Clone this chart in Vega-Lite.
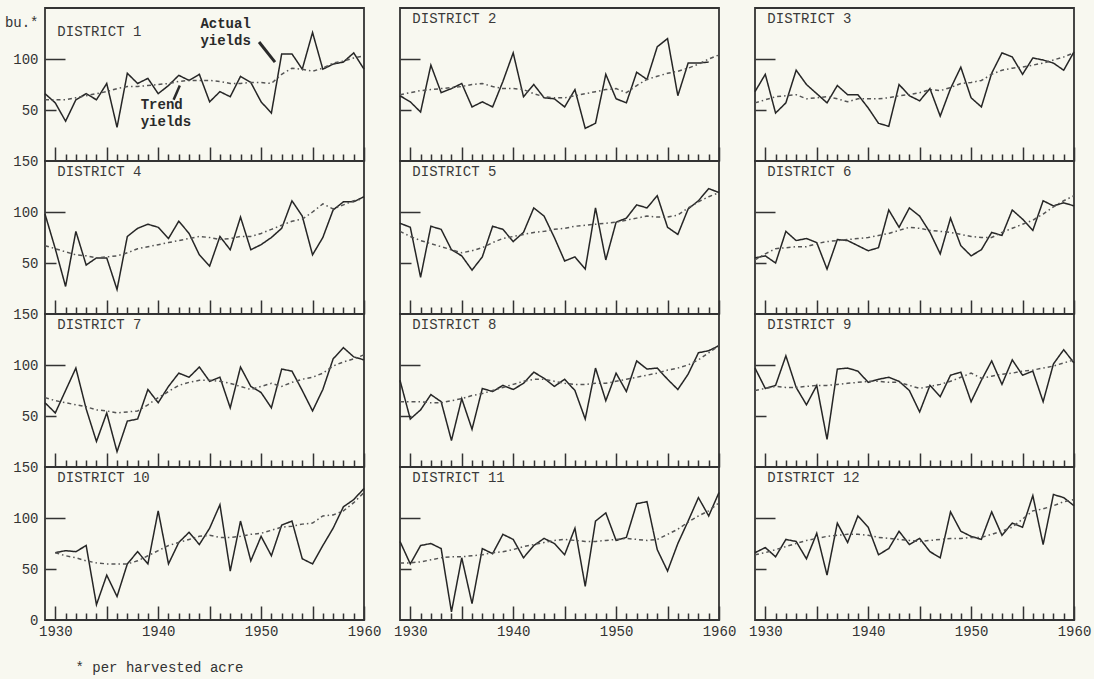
{
"$schema": "https://vega.github.io/schema/vega-lite/v6.json",
"background": "#f8f8f0",
"padding": {"left": 3, "top": 7, "right": 10, "bottom": 4},
"title": {"text": "* per harvested acre", "orient": "bottom", "anchor": "start", "dx": 72, "offset": 22, "fontSize": 14, "fontWeight": "normal", "color": "#333333", "font": "Liberation Mono"},
"config": {
  "font": "Liberation Mono",
  "view": {"stroke": "#333333", "strokeWidth": 1.8},
  "axis": {"grid": false, "domain": false, "tickSize": 0, "tickColor": "#333333", "tickWidth": 1.5, "labelFont": "Liberation Mono", "labelFontSize": 14, "labelColor": "#333333", "labelFlush": false, "labelOverlap": false},
  "text": {"font": "Liberation Mono"},
  "line": {"strokeWidth": 1.5}
},
"datasets": {"yields": [
{"d":1,"yr":1929,"a":66,"t":60},{"d":1,"yr":1930,"a":57,"t":60},{"d":1,"yr":1931,"a":39,"t":60},{"d":1,"yr":1932,"a":60,"t":62},{"d":1,"yr":1933,"a":66,"t":64},{"d":1,"yr":1934,"a":60,"t":66},{"d":1,"yr":1935,"a":76,"t":68},{"d":1,"yr":1936,"a":33,"t":71},{"d":1,"yr":1937,"a":86,"t":73},{"d":1,"yr":1938,"a":76,"t":73},{"d":1,"yr":1939,"a":81,"t":74},{"d":1,"yr":1940,"a":66,"t":75},{"d":1,"yr":1941,"a":74,"t":76},{"d":1,"yr":1942,"a":84,"t":78},{"d":1,"yr":1943,"a":79,"t":79},{"d":1,"yr":1944,"a":85,"t":79},{"d":1,"yr":1945,"a":58,"t":79},{"d":1,"yr":1946,"a":68,"t":78},{"d":1,"yr":1947,"a":63,"t":76},{"d":1,"yr":1948,"a":83,"t":76},{"d":1,"yr":1949,"a":77,"t":77},{"d":1,"yr":1950,"a":58,"t":77},{"d":1,"yr":1951,"a":47,"t":76},{"d":1,"yr":1952,"a":105,"t":85},{"d":1,"yr":1953,"a":105,"t":91},{"d":1,"yr":1954,"a":90,"t":90},{"d":1,"yr":1955,"a":126,"t":88},{"d":1,"yr":1956,"a":90,"t":91},{"d":1,"yr":1957,"a":95,"t":96},{"d":1,"yr":1958,"a":97,"t":98},{"d":1,"yr":1959,"a":106,"t":101},{"d":1,"yr":1960,"a":90,"t":103},
{"d":2,"yr":1929,"a":64,"t":65},{"d":2,"yr":1930,"a":58,"t":67},{"d":2,"yr":1931,"a":48,"t":69},{"d":2,"yr":1932,"a":94,"t":70},{"d":2,"yr":1933,"a":67,"t":71},{"d":2,"yr":1934,"a":71,"t":72},{"d":2,"yr":1935,"a":76,"t":73},{"d":2,"yr":1936,"a":53,"t":75},{"d":2,"yr":1937,"a":58,"t":76},{"d":2,"yr":1938,"a":53,"t":73},{"d":2,"yr":1939,"a":78,"t":71},{"d":2,"yr":1940,"a":106,"t":71},{"d":2,"yr":1941,"a":63,"t":70},{"d":2,"yr":1942,"a":75,"t":66},{"d":2,"yr":1943,"a":62,"t":63},{"d":2,"yr":1944,"a":61,"t":62},{"d":2,"yr":1945,"a":53,"t":62},{"d":2,"yr":1946,"a":70,"t":64},{"d":2,"yr":1947,"a":32,"t":66},{"d":2,"yr":1948,"a":37,"t":68},{"d":2,"yr":1949,"a":85,"t":70},{"d":2,"yr":1950,"a":61,"t":71},{"d":2,"yr":1951,"a":57,"t":67},{"d":2,"yr":1952,"a":87,"t":74},{"d":2,"yr":1953,"a":80,"t":80},{"d":2,"yr":1954,"a":112,"t":83},{"d":2,"yr":1955,"a":120,"t":86},{"d":2,"yr":1956,"a":64,"t":88},{"d":2,"yr":1957,"a":96,"t":91},{"d":2,"yr":1958,"a":96,"t":95},{"d":2,"yr":1959,"a":97,"t":100},{"d":2,"yr":1960,"a":null,"t":104},
{"d":3,"yr":1929,"a":68,"t":57},{"d":3,"yr":1930,"a":85,"t":60},{"d":3,"yr":1931,"a":47,"t":63},{"d":3,"yr":1932,"a":57,"t":64},{"d":3,"yr":1933,"a":89,"t":65},{"d":3,"yr":1934,"a":75,"t":61},{"d":3,"yr":1935,"a":66,"t":62},{"d":3,"yr":1936,"a":57,"t":63},{"d":3,"yr":1937,"a":74,"t":61},{"d":3,"yr":1938,"a":65,"t":58},{"d":3,"yr":1939,"a":65,"t":61},{"d":3,"yr":1940,"a":52,"t":61},{"d":3,"yr":1941,"a":37,"t":61},{"d":3,"yr":1942,"a":34,"t":62},{"d":3,"yr":1943,"a":75,"t":64},{"d":3,"yr":1944,"a":64,"t":65},{"d":3,"yr":1945,"a":59,"t":67},{"d":3,"yr":1946,"a":71,"t":70},{"d":3,"yr":1947,"a":44,"t":69},{"d":3,"yr":1948,"a":71,"t":72},{"d":3,"yr":1949,"a":92,"t":76},{"d":3,"yr":1950,"a":62,"t":77},{"d":3,"yr":1951,"a":53,"t":79},{"d":3,"yr":1952,"a":86,"t":85},{"d":3,"yr":1953,"a":106,"t":89},{"d":3,"yr":1954,"a":102,"t":91},{"d":3,"yr":1955,"a":85,"t":92},{"d":3,"yr":1956,"a":101,"t":94},{"d":3,"yr":1957,"a":99,"t":96},{"d":3,"yr":1958,"a":96,"t":99},{"d":3,"yr":1959,"a":89,"t":102},{"d":3,"yr":1960,"a":107,"t":106},
{"d":4,"yr":1929,"a":98,"t":67},{"d":4,"yr":1930,"a":64,"t":64},{"d":4,"yr":1931,"a":27,"t":61},{"d":4,"yr":1932,"a":81,"t":58},{"d":4,"yr":1933,"a":48,"t":57},{"d":4,"yr":1934,"a":55,"t":55},{"d":4,"yr":1935,"a":55,"t":56},{"d":4,"yr":1936,"a":24,"t":57},{"d":4,"yr":1937,"a":76,"t":60},{"d":4,"yr":1938,"a":84,"t":64},{"d":4,"yr":1939,"a":88,"t":66},{"d":4,"yr":1940,"a":85,"t":68},{"d":4,"yr":1941,"a":74,"t":70},{"d":4,"yr":1942,"a":91,"t":72},{"d":4,"yr":1943,"a":79,"t":74},{"d":4,"yr":1944,"a":58,"t":76},{"d":4,"yr":1945,"a":47,"t":75},{"d":4,"yr":1946,"a":76,"t":73},{"d":4,"yr":1947,"a":63,"t":74},{"d":4,"yr":1948,"a":95,"t":76},{"d":4,"yr":1949,"a":63,"t":76},{"d":4,"yr":1950,"a":68,"t":79},{"d":4,"yr":1951,"a":75,"t":83},{"d":4,"yr":1952,"a":84,"t":87},{"d":4,"yr":1953,"a":111,"t":91},{"d":4,"yr":1954,"a":96,"t":93},{"d":4,"yr":1955,"a":58,"t":100},{"d":4,"yr":1956,"a":75,"t":108},{"d":4,"yr":1957,"a":102,"t":103},{"d":4,"yr":1958,"a":110,"t":107},{"d":4,"yr":1959,"a":110,"t":111},{"d":4,"yr":1960,"a":115,"t":113},
{"d":5,"yr":1929,"a":89,"t":81},{"d":5,"yr":1930,"a":85,"t":76},{"d":5,"yr":1931,"a":36,"t":72},{"d":5,"yr":1932,"a":86,"t":69},{"d":5,"yr":1933,"a":83,"t":66},{"d":5,"yr":1934,"a":63,"t":63},{"d":5,"yr":1935,"a":57,"t":60},{"d":5,"yr":1936,"a":43,"t":62},{"d":5,"yr":1937,"a":56,"t":65},{"d":5,"yr":1938,"a":86,"t":70},{"d":5,"yr":1939,"a":83,"t":74},{"d":5,"yr":1940,"a":71,"t":76},{"d":5,"yr":1941,"a":80,"t":78},{"d":5,"yr":1942,"a":104,"t":80},{"d":5,"yr":1943,"a":96,"t":81},{"d":5,"yr":1944,"a":75,"t":83},{"d":5,"yr":1945,"a":52,"t":84},{"d":5,"yr":1946,"a":56,"t":86},{"d":5,"yr":1947,"a":44,"t":87},{"d":5,"yr":1948,"a":104,"t":88},{"d":5,"yr":1949,"a":53,"t":89},{"d":5,"yr":1950,"a":90,"t":90},{"d":5,"yr":1951,"a":94,"t":92},{"d":5,"yr":1952,"a":107,"t":94},{"d":5,"yr":1953,"a":104,"t":96},{"d":5,"yr":1954,"a":116,"t":95},{"d":5,"yr":1955,"a":85,"t":95},{"d":5,"yr":1956,"a":78,"t":97},{"d":5,"yr":1957,"a":103,"t":104},{"d":5,"yr":1958,"a":111,"t":110},{"d":5,"yr":1959,"a":123,"t":115},{"d":5,"yr":1960,"a":119,"t":119},
{"d":6,"yr":1929,"a":55,"t":53},{"d":6,"yr":1930,"a":57,"t":59},{"d":6,"yr":1931,"a":50,"t":64},{"d":6,"yr":1932,"a":81,"t":65},{"d":6,"yr":1933,"a":72,"t":66},{"d":6,"yr":1934,"a":74,"t":66},{"d":6,"yr":1935,"a":70,"t":69},{"d":6,"yr":1936,"a":44,"t":71},{"d":6,"yr":1937,"a":73,"t":72},{"d":6,"yr":1938,"a":72,"t":73},{"d":6,"yr":1939,"a":67,"t":74},{"d":6,"yr":1940,"a":62,"t":75},{"d":6,"yr":1941,"a":65,"t":77},{"d":6,"yr":1942,"a":102,"t":79},{"d":6,"yr":1943,"a":85,"t":82},{"d":6,"yr":1944,"a":104,"t":85},{"d":6,"yr":1945,"a":96,"t":84},{"d":6,"yr":1946,"a":80,"t":82},{"d":6,"yr":1947,"a":59,"t":81},{"d":6,"yr":1948,"a":94,"t":80},{"d":6,"yr":1949,"a":67,"t":78},{"d":6,"yr":1950,"a":57,"t":76},{"d":6,"yr":1951,"a":63,"t":75},{"d":6,"yr":1952,"a":80,"t":75},{"d":6,"yr":1953,"a":77,"t":80},{"d":6,"yr":1954,"a":102,"t":84},{"d":6,"yr":1955,"a":93,"t":88},{"d":6,"yr":1956,"a":82,"t":92},{"d":6,"yr":1957,"a":111,"t":98},{"d":6,"yr":1958,"a":106,"t":105},{"d":6,"yr":1959,"a":109,"t":111},{"d":6,"yr":1960,"a":106,"t":116},
{"d":7,"yr":1929,"a":63,"t":68},{"d":7,"yr":1930,"a":53,"t":65},{"d":7,"yr":1931,"a":75,"t":63},{"d":7,"yr":1932,"a":97,"t":61},{"d":7,"yr":1933,"a":57,"t":59},{"d":7,"yr":1934,"a":25,"t":56},{"d":7,"yr":1935,"a":53,"t":55},{"d":7,"yr":1936,"a":15,"t":53},{"d":7,"yr":1937,"a":45,"t":54},{"d":7,"yr":1938,"a":47,"t":55},{"d":7,"yr":1939,"a":76,"t":61},{"d":7,"yr":1940,"a":63,"t":68},{"d":7,"yr":1941,"a":79,"t":74},{"d":7,"yr":1942,"a":92,"t":80},{"d":7,"yr":1943,"a":88,"t":83},{"d":7,"yr":1944,"a":98,"t":85},{"d":7,"yr":1945,"a":84,"t":85},{"d":7,"yr":1946,"a":88,"t":84},{"d":7,"yr":1947,"a":58,"t":82},{"d":7,"yr":1948,"a":98,"t":79},{"d":7,"yr":1949,"a":79,"t":76},{"d":7,"yr":1950,"a":73,"t":79},{"d":7,"yr":1951,"a":58,"t":82},{"d":7,"yr":1952,"a":96,"t":79},{"d":7,"yr":1953,"a":94,"t":83},{"d":7,"yr":1954,"a":75,"t":86},{"d":7,"yr":1955,"a":55,"t":88},{"d":7,"yr":1956,"a":76,"t":92},{"d":7,"yr":1957,"a":106,"t":99},{"d":7,"yr":1958,"a":117,"t":103},{"d":7,"yr":1959,"a":108,"t":106},{"d":7,"yr":1960,"a":105,"t":110},
{"d":8,"yr":1929,"a":85,"t":64},{"d":8,"yr":1930,"a":47,"t":64},{"d":8,"yr":1931,"a":56,"t":64},{"d":8,"yr":1932,"a":71,"t":63},{"d":8,"yr":1933,"a":64,"t":63},{"d":8,"yr":1934,"a":26,"t":65},{"d":8,"yr":1935,"a":67,"t":67},{"d":8,"yr":1936,"a":37,"t":70},{"d":8,"yr":1937,"a":77,"t":72},{"d":8,"yr":1938,"a":74,"t":75},{"d":8,"yr":1939,"a":80,"t":78},{"d":8,"yr":1940,"a":76,"t":81},{"d":8,"yr":1941,"a":82,"t":84},{"d":8,"yr":1942,"a":93,"t":86},{"d":8,"yr":1943,"a":87,"t":86},{"d":8,"yr":1944,"a":79,"t":84},{"d":8,"yr":1945,"a":86,"t":82},{"d":8,"yr":1946,"a":75,"t":81},{"d":8,"yr":1947,"a":47,"t":81},{"d":8,"yr":1948,"a":97,"t":82},{"d":8,"yr":1949,"a":65,"t":82},{"d":8,"yr":1950,"a":92,"t":84},{"d":8,"yr":1951,"a":74,"t":86},{"d":8,"yr":1952,"a":104,"t":88},{"d":8,"yr":1953,"a":96,"t":90},{"d":8,"yr":1954,"a":97,"t":92},{"d":8,"yr":1955,"a":86,"t":95},{"d":8,"yr":1956,"a":76,"t":97},{"d":8,"yr":1957,"a":91,"t":100},{"d":8,"yr":1958,"a":112,"t":105},{"d":8,"yr":1959,"a":114,"t":112},{"d":8,"yr":1960,"a":119,"t":119},
{"d":9,"yr":1929,"a":97,"t":75},{"d":9,"yr":1930,"a":77,"t":77},{"d":9,"yr":1931,"a":80,"t":79},{"d":9,"yr":1932,"a":109,"t":78},{"d":9,"yr":1933,"a":78,"t":78},{"d":9,"yr":1934,"a":61,"t":79},{"d":9,"yr":1935,"a":80,"t":80},{"d":9,"yr":1936,"a":27,"t":80},{"d":9,"yr":1937,"a":96,"t":81},{"d":9,"yr":1938,"a":97,"t":82},{"d":9,"yr":1939,"a":94,"t":83},{"d":9,"yr":1940,"a":83,"t":84},{"d":9,"yr":1941,"a":86,"t":84},{"d":9,"yr":1942,"a":88,"t":83},{"d":9,"yr":1943,"a":84,"t":83},{"d":9,"yr":1944,"a":75,"t":80},{"d":9,"yr":1945,"a":54,"t":77},{"d":9,"yr":1946,"a":80,"t":79},{"d":9,"yr":1947,"a":69,"t":81},{"d":9,"yr":1948,"a":90,"t":84},{"d":9,"yr":1949,"a":93,"t":88},{"d":9,"yr":1950,"a":64,"t":92},{"d":9,"yr":1951,"a":85,"t":87},{"d":9,"yr":1952,"a":104,"t":89},{"d":9,"yr":1953,"a":81,"t":91},{"d":9,"yr":1954,"a":105,"t":92},{"d":9,"yr":1955,"a":90,"t":94},{"d":9,"yr":1956,"a":94,"t":95},{"d":9,"yr":1957,"a":64,"t":97},{"d":9,"yr":1958,"a":101,"t":99},{"d":9,"yr":1959,"a":115,"t":102},{"d":9,"yr":1960,"a":102,"t":105},
{"d":10,"yr":1930,"a":66,"t":66},{"d":10,"yr":1931,"a":68,"t":63},{"d":10,"yr":1932,"a":67,"t":61},{"d":10,"yr":1933,"a":73,"t":58},{"d":10,"yr":1934,"a":15,"t":56},{"d":10,"yr":1935,"a":44,"t":55},{"d":10,"yr":1936,"a":23,"t":55},{"d":10,"yr":1937,"a":55,"t":55},{"d":10,"yr":1938,"a":67,"t":58},{"d":10,"yr":1939,"a":55,"t":63},{"d":10,"yr":1940,"a":107,"t":68},{"d":10,"yr":1941,"a":55,"t":73},{"d":10,"yr":1942,"a":76,"t":76},{"d":10,"yr":1943,"a":86,"t":79},{"d":10,"yr":1944,"a":74,"t":82},{"d":10,"yr":1945,"a":90,"t":83},{"d":10,"yr":1946,"a":113,"t":81},{"d":10,"yr":1947,"a":48,"t":81},{"d":10,"yr":1948,"a":97,"t":82},{"d":10,"yr":1949,"a":58,"t":84},{"d":10,"yr":1950,"a":82,"t":85},{"d":10,"yr":1951,"a":63,"t":88},{"d":10,"yr":1952,"a":93,"t":91},{"d":10,"yr":1953,"a":97,"t":92},{"d":10,"yr":1954,"a":60,"t":94},{"d":10,"yr":1955,"a":55,"t":95},{"d":10,"yr":1956,"a":73,"t":102},{"d":10,"yr":1957,"a":90,"t":103},{"d":10,"yr":1958,"a":111,"t":107},{"d":10,"yr":1959,"a":118,"t":115},{"d":10,"yr":1960,"a":129,"t":125},
{"d":11,"yr":1929,"a":77,"t":56},{"d":11,"yr":1930,"a":55,"t":56},{"d":11,"yr":1931,"a":73,"t":57},{"d":11,"yr":1932,"a":75,"t":59},{"d":11,"yr":1933,"a":70,"t":61},{"d":11,"yr":1934,"a":8,"t":62},{"d":11,"yr":1935,"a":61,"t":62},{"d":11,"yr":1936,"a":16,"t":63},{"d":11,"yr":1937,"a":70,"t":64},{"d":11,"yr":1938,"a":65,"t":66},{"d":11,"yr":1939,"a":84,"t":67},{"d":11,"yr":1940,"a":79,"t":69},{"d":11,"yr":1941,"a":61,"t":72},{"d":11,"yr":1942,"a":73,"t":74},{"d":11,"yr":1943,"a":80,"t":76},{"d":11,"yr":1944,"a":75,"t":78},{"d":11,"yr":1945,"a":64,"t":79},{"d":11,"yr":1946,"a":90,"t":78},{"d":11,"yr":1947,"a":33,"t":77},{"d":11,"yr":1948,"a":97,"t":77},{"d":11,"yr":1949,"a":105,"t":78},{"d":11,"yr":1950,"a":78,"t":79},{"d":11,"yr":1951,"a":81,"t":80},{"d":11,"yr":1952,"a":114,"t":79},{"d":11,"yr":1953,"a":116,"t":78},{"d":11,"yr":1954,"a":69,"t":79},{"d":11,"yr":1955,"a":48,"t":84},{"d":11,"yr":1956,"a":75,"t":89},{"d":11,"yr":1957,"a":97,"t":96},{"d":11,"yr":1958,"a":120,"t":102},{"d":11,"yr":1959,"a":102,"t":107},{"d":11,"yr":1960,"a":125,"t":115},
{"d":12,"yr":1929,"a":66,"t":64},{"d":12,"yr":1930,"a":71,"t":66},{"d":12,"yr":1931,"a":62,"t":69},{"d":12,"yr":1932,"a":79,"t":72},{"d":12,"yr":1933,"a":77,"t":75},{"d":12,"yr":1934,"a":60,"t":78},{"d":12,"yr":1935,"a":85,"t":80},{"d":12,"yr":1936,"a":44,"t":82},{"d":12,"yr":1937,"a":95,"t":83},{"d":12,"yr":1938,"a":76,"t":84},{"d":12,"yr":1939,"a":102,"t":84},{"d":12,"yr":1940,"a":91,"t":83},{"d":12,"yr":1941,"a":64,"t":81},{"d":12,"yr":1942,"a":70,"t":80},{"d":12,"yr":1943,"a":87,"t":79},{"d":12,"yr":1944,"a":74,"t":78},{"d":12,"yr":1945,"a":80,"t":77},{"d":12,"yr":1946,"a":67,"t":78},{"d":12,"yr":1947,"a":61,"t":79},{"d":12,"yr":1948,"a":106,"t":80},{"d":12,"yr":1949,"a":87,"t":80},{"d":12,"yr":1950,"a":82,"t":81},{"d":12,"yr":1951,"a":79,"t":81},{"d":12,"yr":1952,"a":106,"t":84},{"d":12,"yr":1953,"a":83,"t":87},{"d":12,"yr":1954,"a":95,"t":91},{"d":12,"yr":1955,"a":91,"t":99},{"d":12,"yr":1956,"a":122,"t":107},{"d":12,"yr":1957,"a":74,"t":109},{"d":12,"yr":1958,"a":123,"t":112},{"d":12,"yr":1959,"a":120,"t":116},{"d":12,"yr":1960,"a":112,"t":118}
]},
"columns": 3,
"spacing": {"row": 0, "column": 36},
"bounds": "flush",
"concat": [
{"width": 319, "height": 153, "layer": [
 {"data": {"name": "yields"}, "transform": [{"filter": "datum.d == 1"}, {"fold": ["a", "t"], "as": ["s", "v"]}], "mark": {"type": "line"},
  "encoding": {
   "x": {"field": "yr", "type": "quantitative", "title": null, "scale": {"domain": [1929, 1960], "nice": false, "zero": false}, "axis": {"values": [1930,1931,1932,1933,1934,1935,1936,1937,1938,1939,1940,1941,1942,1943,1944,1945,1946,1947,1948,1949,1950,1951,1952,1953,1954,1955,1956,1957,1958,1959,1960], "tickCount": 40, "labels": false, "tickSize": -7, "labelOverlap": false, "encoding": {"ticks": {"y2": {"condition": {"test": "datum.value % 5 === 0", "value": -14}, "value": -7}}}}},
   "y": {"field": "v", "type": "quantitative", "title": null, "scale": {"domain": [0, 150], "nice": false}, "axis": {"values": [50, 100, 136], "labelExpr": "datum.value === 136 ? 'bu.*' : datum.label", "labelPadding": 7, "encoding": {"ticks": {"x2": {"condition": [{"test": "datum.value === 100", "value": 20}, {"test": "datum.value === 50", "value": 11}], "value": 0}}}}},
   "color": {"field": "s", "type": "nominal", "scale": {"domain": ["a", "t"], "range": ["#262626", "#555555"]}, "legend": null},
   "strokeDash": {"field": "s", "type": "nominal", "scale": {"domain": ["a", "t"], "range": [[1, 0], [4, 3, 1.5, 3]]}, "legend": null}}},
 {"data": {"values": [{"label": "DISTRICT 1"}]}, "mark": {"type": "text", "align": "left", "baseline": "middle", "fontSize": 14, "color": "#3a3a3a"}, "encoding": {"x": {"datum": 1930.2, "type": "quantitative", "title": null}, "y": {"datum": 126, "type": "quantitative", "title": null}, "text": {"field": "label"}}},
 {"data": {"values": [{}]}, "mark": {"type": "text", "text": ["Actual", "yields"], "align": "left", "baseline": "top", "fontSize": 14, "fontWeight": "bold", "lineHeight": 17, "color": "#2a2a2a"}, "encoding": {"x": {"datum": 1944.1, "type": "quantitative", "title": null}, "y": {"datum": 141, "type": "quantitative", "title": null}}},
 {"data": {"values": [{}]}, "mark": {"type": "rule", "strokeWidth": 3, "color": "#2a2a2a"}, "encoding": {"x": {"datum": 1949.8, "type": "quantitative", "title": null}, "y": {"datum": 116.7, "type": "quantitative", "title": null}, "x2": {"datum": 1951.35}, "y2": {"datum": 97}}},
 {"data": {"values": [{}]}, "mark": {"type": "text", "text": ["Trend", "yields"], "align": "left", "baseline": "top", "fontSize": 14, "fontWeight": "bold", "lineHeight": 17, "color": "#2a2a2a"}, "encoding": {"x": {"datum": 1938.3, "type": "quantitative", "title": null}, "y": {"datum": 62, "type": "quantitative", "title": null}}},
 {"data": {"values": [{}]}, "mark": {"type": "rule", "strokeWidth": 2.5, "color": "#2a2a2a"}, "encoding": {"x": {"datum": 1941.5, "type": "quantitative", "title": null}, "y": {"datum": 60, "type": "quantitative", "title": null}, "x2": {"datum": 1942.1}, "y2": {"datum": 74}}}
]},
{"width": 319, "height": 153, "layer": [
 {"data": {"name": "yields"}, "transform": [{"filter": "datum.d == 2"}, {"fold": ["a", "t"], "as": ["s", "v"]}], "mark": {"type": "line"},
  "encoding": {
   "x": {"field": "yr", "type": "quantitative", "title": null, "scale": {"domain": [1929, 1960], "nice": false, "zero": false}, "axis": {"values": [1930,1931,1932,1933,1934,1935,1936,1937,1938,1939,1940,1941,1942,1943,1944,1945,1946,1947,1948,1949,1950,1951,1952,1953,1954,1955,1956,1957,1958,1959,1960], "tickCount": 40, "labels": false, "tickSize": -7, "labelOverlap": false, "encoding": {"ticks": {"y2": {"condition": {"test": "datum.value % 5 === 0", "value": -14}, "value": -7}}}}},
   "y": {"field": "v", "type": "quantitative", "title": null, "scale": {"domain": [0, 150], "nice": false}, "axis": {"values": [50, 100], "labels": false, "encoding": {"ticks": {"x2": {"condition": [{"test": "datum.value === 100", "value": 20}, {"test": "datum.value === 50", "value": 11}], "value": 0}}}}},
   "color": {"field": "s", "type": "nominal", "scale": {"domain": ["a", "t"], "range": ["#262626", "#555555"]}, "legend": null},
   "strokeDash": {"field": "s", "type": "nominal", "scale": {"domain": ["a", "t"], "range": [[1, 0], [4, 3, 1.5, 3]]}, "legend": null}}},
 {"data": {"values": [{"label": "DISTRICT 2"}]}, "mark": {"type": "text", "align": "left", "baseline": "middle", "fontSize": 14, "color": "#3a3a3a"}, "encoding": {"x": {"datum": 1930.2, "type": "quantitative", "title": null}, "y": {"datum": 139, "type": "quantitative", "title": null}, "text": {"field": "label"}}}
]},
{"width": 319, "height": 153, "layer": [
 {"data": {"name": "yields"}, "transform": [{"filter": "datum.d == 3"}, {"fold": ["a", "t"], "as": ["s", "v"]}], "mark": {"type": "line"},
  "encoding": {
   "x": {"field": "yr", "type": "quantitative", "title": null, "scale": {"domain": [1929, 1960], "nice": false, "zero": false}, "axis": {"values": [1930,1931,1932,1933,1934,1935,1936,1937,1938,1939,1940,1941,1942,1943,1944,1945,1946,1947,1948,1949,1950,1951,1952,1953,1954,1955,1956,1957,1958,1959,1960], "tickCount": 40, "labels": false, "tickSize": -7, "labelOverlap": false, "encoding": {"ticks": {"y2": {"condition": {"test": "datum.value % 5 === 0", "value": -14}, "value": -7}}}}},
   "y": {"field": "v", "type": "quantitative", "title": null, "scale": {"domain": [0, 150], "nice": false}, "axis": {"values": [50, 100], "labels": false, "encoding": {"ticks": {"x2": {"condition": [{"test": "datum.value === 100", "value": 20}, {"test": "datum.value === 50", "value": 11}], "value": 0}}}}},
   "color": {"field": "s", "type": "nominal", "scale": {"domain": ["a", "t"], "range": ["#262626", "#555555"]}, "legend": null},
   "strokeDash": {"field": "s", "type": "nominal", "scale": {"domain": ["a", "t"], "range": [[1, 0], [4, 3, 1.5, 3]]}, "legend": null}}},
 {"data": {"values": [{"label": "DISTRICT 3"}]}, "mark": {"type": "text", "align": "left", "baseline": "middle", "fontSize": 14, "color": "#3a3a3a"}, "encoding": {"x": {"datum": 1930.2, "type": "quantitative", "title": null}, "y": {"datum": 139, "type": "quantitative", "title": null}, "text": {"field": "label"}}}
]},
{"width": 319, "height": 153, "layer": [
 {"data": {"name": "yields"}, "transform": [{"filter": "datum.d == 4"}, {"fold": ["a", "t"], "as": ["s", "v"]}], "mark": {"type": "line"},
  "encoding": {
   "x": {"field": "yr", "type": "quantitative", "title": null, "scale": {"domain": [1929, 1960], "nice": false, "zero": false}, "axis": {"values": [1930,1931,1932,1933,1934,1935,1936,1937,1938,1939,1940,1941,1942,1943,1944,1945,1946,1947,1948,1949,1950,1951,1952,1953,1954,1955,1956,1957,1958,1959,1960], "tickCount": 40, "labels": false, "tickSize": -7, "labelOverlap": false, "encoding": {"ticks": {"y2": {"condition": {"test": "datum.value % 5 === 0", "value": -14}, "value": -7}}}}},
   "y": {"field": "v", "type": "quantitative", "title": null, "scale": {"domain": [0, 150], "nice": false}, "axis": {"values": [50, 100, 150], "labelPadding": 7, "encoding": {"ticks": {"x2": {"condition": [{"test": "datum.value === 100", "value": 20}, {"test": "datum.value === 50", "value": 11}], "value": 0}}}}},
   "color": {"field": "s", "type": "nominal", "scale": {"domain": ["a", "t"], "range": ["#262626", "#555555"]}, "legend": null},
   "strokeDash": {"field": "s", "type": "nominal", "scale": {"domain": ["a", "t"], "range": [[1, 0], [4, 3, 1.5, 3]]}, "legend": null}}},
 {"data": {"values": [{"label": "DISTRICT 4"}]}, "mark": {"type": "text", "align": "left", "baseline": "middle", "fontSize": 14, "color": "#3a3a3a"}, "encoding": {"x": {"datum": 1930.2, "type": "quantitative", "title": null}, "y": {"datum": 139, "type": "quantitative", "title": null}, "text": {"field": "label"}}}
]},
{"width": 319, "height": 153, "layer": [
 {"data": {"name": "yields"}, "transform": [{"filter": "datum.d == 5"}, {"fold": ["a", "t"], "as": ["s", "v"]}], "mark": {"type": "line"},
  "encoding": {
   "x": {"field": "yr", "type": "quantitative", "title": null, "scale": {"domain": [1929, 1960], "nice": false, "zero": false}, "axis": {"values": [1930,1931,1932,1933,1934,1935,1936,1937,1938,1939,1940,1941,1942,1943,1944,1945,1946,1947,1948,1949,1950,1951,1952,1953,1954,1955,1956,1957,1958,1959,1960], "tickCount": 40, "labels": false, "tickSize": -7, "labelOverlap": false, "encoding": {"ticks": {"y2": {"condition": {"test": "datum.value % 5 === 0", "value": -14}, "value": -7}}}}},
   "y": {"field": "v", "type": "quantitative", "title": null, "scale": {"domain": [0, 150], "nice": false}, "axis": {"values": [50, 100], "labels": false, "encoding": {"ticks": {"x2": {"condition": [{"test": "datum.value === 100", "value": 20}, {"test": "datum.value === 50", "value": 11}], "value": 0}}}}},
   "color": {"field": "s", "type": "nominal", "scale": {"domain": ["a", "t"], "range": ["#262626", "#555555"]}, "legend": null},
   "strokeDash": {"field": "s", "type": "nominal", "scale": {"domain": ["a", "t"], "range": [[1, 0], [4, 3, 1.5, 3]]}, "legend": null}}},
 {"data": {"values": [{"label": "DISTRICT 5"}]}, "mark": {"type": "text", "align": "left", "baseline": "middle", "fontSize": 14, "color": "#3a3a3a"}, "encoding": {"x": {"datum": 1930.2, "type": "quantitative", "title": null}, "y": {"datum": 139, "type": "quantitative", "title": null}, "text": {"field": "label"}}}
]},
{"width": 319, "height": 153, "layer": [
 {"data": {"name": "yields"}, "transform": [{"filter": "datum.d == 6"}, {"fold": ["a", "t"], "as": ["s", "v"]}], "mark": {"type": "line"},
  "encoding": {
   "x": {"field": "yr", "type": "quantitative", "title": null, "scale": {"domain": [1929, 1960], "nice": false, "zero": false}, "axis": {"values": [1930,1931,1932,1933,1934,1935,1936,1937,1938,1939,1940,1941,1942,1943,1944,1945,1946,1947,1948,1949,1950,1951,1952,1953,1954,1955,1956,1957,1958,1959,1960], "tickCount": 40, "labels": false, "tickSize": -7, "labelOverlap": false, "encoding": {"ticks": {"y2": {"condition": {"test": "datum.value % 5 === 0", "value": -14}, "value": -7}}}}},
   "y": {"field": "v", "type": "quantitative", "title": null, "scale": {"domain": [0, 150], "nice": false}, "axis": {"values": [50, 100], "labels": false, "encoding": {"ticks": {"x2": {"condition": [{"test": "datum.value === 100", "value": 20}, {"test": "datum.value === 50", "value": 11}], "value": 0}}}}},
   "color": {"field": "s", "type": "nominal", "scale": {"domain": ["a", "t"], "range": ["#262626", "#555555"]}, "legend": null},
   "strokeDash": {"field": "s", "type": "nominal", "scale": {"domain": ["a", "t"], "range": [[1, 0], [4, 3, 1.5, 3]]}, "legend": null}}},
 {"data": {"values": [{"label": "DISTRICT 6"}]}, "mark": {"type": "text", "align": "left", "baseline": "middle", "fontSize": 14, "color": "#3a3a3a"}, "encoding": {"x": {"datum": 1930.2, "type": "quantitative", "title": null}, "y": {"datum": 139, "type": "quantitative", "title": null}, "text": {"field": "label"}}}
]},
{"width": 319, "height": 153, "layer": [
 {"data": {"name": "yields"}, "transform": [{"filter": "datum.d == 7"}, {"fold": ["a", "t"], "as": ["s", "v"]}], "mark": {"type": "line"},
  "encoding": {
   "x": {"field": "yr", "type": "quantitative", "title": null, "scale": {"domain": [1929, 1960], "nice": false, "zero": false}, "axis": {"values": [1930,1931,1932,1933,1934,1935,1936,1937,1938,1939,1940,1941,1942,1943,1944,1945,1946,1947,1948,1949,1950,1951,1952,1953,1954,1955,1956,1957,1958,1959,1960], "tickCount": 40, "labels": false, "tickSize": -7, "labelOverlap": false, "encoding": {"ticks": {"y2": {"condition": {"test": "datum.value % 5 === 0", "value": -14}, "value": -7}}}}},
   "y": {"field": "v", "type": "quantitative", "title": null, "scale": {"domain": [0, 150], "nice": false}, "axis": {"values": [50, 100, 150], "labelPadding": 7, "encoding": {"ticks": {"x2": {"condition": [{"test": "datum.value === 100", "value": 20}, {"test": "datum.value === 50", "value": 11}], "value": 0}}}}},
   "color": {"field": "s", "type": "nominal", "scale": {"domain": ["a", "t"], "range": ["#262626", "#555555"]}, "legend": null},
   "strokeDash": {"field": "s", "type": "nominal", "scale": {"domain": ["a", "t"], "range": [[1, 0], [4, 3, 1.5, 3]]}, "legend": null}}},
 {"data": {"values": [{"label": "DISTRICT 7"}]}, "mark": {"type": "text", "align": "left", "baseline": "middle", "fontSize": 14, "color": "#3a3a3a"}, "encoding": {"x": {"datum": 1930.2, "type": "quantitative", "title": null}, "y": {"datum": 139, "type": "quantitative", "title": null}, "text": {"field": "label"}}}
]},
{"width": 319, "height": 153, "layer": [
 {"data": {"name": "yields"}, "transform": [{"filter": "datum.d == 8"}, {"fold": ["a", "t"], "as": ["s", "v"]}], "mark": {"type": "line"},
  "encoding": {
   "x": {"field": "yr", "type": "quantitative", "title": null, "scale": {"domain": [1929, 1960], "nice": false, "zero": false}, "axis": {"values": [1930,1931,1932,1933,1934,1935,1936,1937,1938,1939,1940,1941,1942,1943,1944,1945,1946,1947,1948,1949,1950,1951,1952,1953,1954,1955,1956,1957,1958,1959,1960], "tickCount": 40, "labels": false, "tickSize": -7, "labelOverlap": false, "encoding": {"ticks": {"y2": {"condition": {"test": "datum.value % 5 === 0", "value": -14}, "value": -7}}}}},
   "y": {"field": "v", "type": "quantitative", "title": null, "scale": {"domain": [0, 150], "nice": false}, "axis": {"values": [50, 100], "labels": false, "encoding": {"ticks": {"x2": {"condition": [{"test": "datum.value === 100", "value": 20}, {"test": "datum.value === 50", "value": 11}], "value": 0}}}}},
   "color": {"field": "s", "type": "nominal", "scale": {"domain": ["a", "t"], "range": ["#262626", "#555555"]}, "legend": null},
   "strokeDash": {"field": "s", "type": "nominal", "scale": {"domain": ["a", "t"], "range": [[1, 0], [4, 3, 1.5, 3]]}, "legend": null}}},
 {"data": {"values": [{"label": "DISTRICT 8"}]}, "mark": {"type": "text", "align": "left", "baseline": "middle", "fontSize": 14, "color": "#3a3a3a"}, "encoding": {"x": {"datum": 1930.2, "type": "quantitative", "title": null}, "y": {"datum": 139, "type": "quantitative", "title": null}, "text": {"field": "label"}}}
]},
{"width": 319, "height": 153, "layer": [
 {"data": {"name": "yields"}, "transform": [{"filter": "datum.d == 9"}, {"fold": ["a", "t"], "as": ["s", "v"]}], "mark": {"type": "line"},
  "encoding": {
   "x": {"field": "yr", "type": "quantitative", "title": null, "scale": {"domain": [1929, 1960], "nice": false, "zero": false}, "axis": {"values": [1930,1931,1932,1933,1934,1935,1936,1937,1938,1939,1940,1941,1942,1943,1944,1945,1946,1947,1948,1949,1950,1951,1952,1953,1954,1955,1956,1957,1958,1959,1960], "tickCount": 40, "labels": false, "tickSize": -7, "labelOverlap": false, "encoding": {"ticks": {"y2": {"condition": {"test": "datum.value % 5 === 0", "value": -14}, "value": -7}}}}},
   "y": {"field": "v", "type": "quantitative", "title": null, "scale": {"domain": [0, 150], "nice": false}, "axis": {"values": [50, 100], "labels": false, "encoding": {"ticks": {"x2": {"condition": [{"test": "datum.value === 100", "value": 20}, {"test": "datum.value === 50", "value": 11}], "value": 0}}}}},
   "color": {"field": "s", "type": "nominal", "scale": {"domain": ["a", "t"], "range": ["#262626", "#555555"]}, "legend": null},
   "strokeDash": {"field": "s", "type": "nominal", "scale": {"domain": ["a", "t"], "range": [[1, 0], [4, 3, 1.5, 3]]}, "legend": null}}},
 {"data": {"values": [{"label": "DISTRICT 9"}]}, "mark": {"type": "text", "align": "left", "baseline": "middle", "fontSize": 14, "color": "#3a3a3a"}, "encoding": {"x": {"datum": 1930.2, "type": "quantitative", "title": null}, "y": {"datum": 139, "type": "quantitative", "title": null}, "text": {"field": "label"}}}
]},
{"width": 319, "height": 153, "layer": [
 {"data": {"name": "yields"}, "transform": [{"filter": "datum.d == 10"}, {"fold": ["a", "t"], "as": ["s", "v"]}], "mark": {"type": "line"},
  "encoding": {
   "x": {"field": "yr", "type": "quantitative", "title": null, "scale": {"domain": [1929, 1960], "nice": false, "zero": false}, "axis": {"values": [1930,1931,1932,1933,1934,1935,1936,1937,1938,1939,1940,1941,1942,1943,1944,1945,1946,1947,1948,1949,1950,1951,1952,1953,1954,1955,1956,1957,1958,1959,1960], "tickCount": 40, "labelExpr": "datum.value % 10 === 0 ? datum.label : ''", "format": "d", "tickSize": -7, "labelPadding": 11, "labelOverlap": false, "encoding": {"ticks": {"y2": {"condition": {"test": "datum.value % 5 === 0", "value": -14}, "value": -7}}}}},
   "y": {"field": "v", "type": "quantitative", "title": null, "scale": {"domain": [0, 150], "nice": false}, "axis": {"values": [0, 50, 100, 150], "labelPadding": 7, "encoding": {"ticks": {"x2": {"condition": [{"test": "datum.value === 100", "value": 20}, {"test": "datum.value === 50", "value": 11}], "value": 0}}}}},
   "color": {"field": "s", "type": "nominal", "scale": {"domain": ["a", "t"], "range": ["#262626", "#555555"]}, "legend": null},
   "strokeDash": {"field": "s", "type": "nominal", "scale": {"domain": ["a", "t"], "range": [[1, 0], [4, 3, 1.5, 3]]}, "legend": null}}},
 {"data": {"values": [{"label": "DISTRICT 10"}]}, "mark": {"type": "text", "align": "left", "baseline": "middle", "fontSize": 14, "color": "#3a3a3a"}, "encoding": {"x": {"datum": 1930.2, "type": "quantitative", "title": null}, "y": {"datum": 139, "type": "quantitative", "title": null}, "text": {"field": "label"}}}
]},
{"width": 319, "height": 153, "layer": [
 {"data": {"name": "yields"}, "transform": [{"filter": "datum.d == 11"}, {"fold": ["a", "t"], "as": ["s", "v"]}], "mark": {"type": "line"},
  "encoding": {
   "x": {"field": "yr", "type": "quantitative", "title": null, "scale": {"domain": [1929, 1960], "nice": false, "zero": false}, "axis": {"values": [1930,1931,1932,1933,1934,1935,1936,1937,1938,1939,1940,1941,1942,1943,1944,1945,1946,1947,1948,1949,1950,1951,1952,1953,1954,1955,1956,1957,1958,1959,1960], "tickCount": 40, "labelExpr": "datum.value % 10 === 0 ? datum.label : ''", "format": "d", "tickSize": -7, "labelPadding": 11, "labelOverlap": false, "encoding": {"ticks": {"y2": {"condition": {"test": "datum.value % 5 === 0", "value": -14}, "value": -7}}}}},
   "y": {"field": "v", "type": "quantitative", "title": null, "scale": {"domain": [0, 150], "nice": false}, "axis": {"values": [50, 100], "labels": false, "encoding": {"ticks": {"x2": {"condition": [{"test": "datum.value === 100", "value": 20}, {"test": "datum.value === 50", "value": 11}], "value": 0}}}}},
   "color": {"field": "s", "type": "nominal", "scale": {"domain": ["a", "t"], "range": ["#262626", "#555555"]}, "legend": null},
   "strokeDash": {"field": "s", "type": "nominal", "scale": {"domain": ["a", "t"], "range": [[1, 0], [4, 3, 1.5, 3]]}, "legend": null}}},
 {"data": {"values": [{"label": "DISTRICT 11"}]}, "mark": {"type": "text", "align": "left", "baseline": "middle", "fontSize": 14, "color": "#3a3a3a"}, "encoding": {"x": {"datum": 1930.2, "type": "quantitative", "title": null}, "y": {"datum": 139, "type": "quantitative", "title": null}, "text": {"field": "label"}}}
]},
{"width": 319, "height": 153, "layer": [
 {"data": {"name": "yields"}, "transform": [{"filter": "datum.d == 12"}, {"fold": ["a", "t"], "as": ["s", "v"]}], "mark": {"type": "line"},
  "encoding": {
   "x": {"field": "yr", "type": "quantitative", "title": null, "scale": {"domain": [1929, 1960], "nice": false, "zero": false}, "axis": {"values": [1930,1931,1932,1933,1934,1935,1936,1937,1938,1939,1940,1941,1942,1943,1944,1945,1946,1947,1948,1949,1950,1951,1952,1953,1954,1955,1956,1957,1958,1959,1960], "tickCount": 40, "labelExpr": "datum.value % 10 === 0 ? datum.label : ''", "format": "d", "tickSize": -7, "labelPadding": 11, "labelOverlap": false, "encoding": {"ticks": {"y2": {"condition": {"test": "datum.value % 5 === 0", "value": -14}, "value": -7}}}}},
   "y": {"field": "v", "type": "quantitative", "title": null, "scale": {"domain": [0, 150], "nice": false}, "axis": {"values": [50, 100], "labels": false, "encoding": {"ticks": {"x2": {"condition": [{"test": "datum.value === 100", "value": 20}, {"test": "datum.value === 50", "value": 11}], "value": 0}}}}},
   "color": {"field": "s", "type": "nominal", "scale": {"domain": ["a", "t"], "range": ["#262626", "#555555"]}, "legend": null},
   "strokeDash": {"field": "s", "type": "nominal", "scale": {"domain": ["a", "t"], "range": [[1, 0], [4, 3, 1.5, 3]]}, "legend": null}}},
 {"data": {"values": [{"label": "DISTRICT 12"}]}, "mark": {"type": "text", "align": "left", "baseline": "middle", "fontSize": 14, "color": "#3a3a3a"}, "encoding": {"x": {"datum": 1930.2, "type": "quantitative", "title": null}, "y": {"datum": 139, "type": "quantitative", "title": null}, "text": {"field": "label"}}}
]}
]
}
